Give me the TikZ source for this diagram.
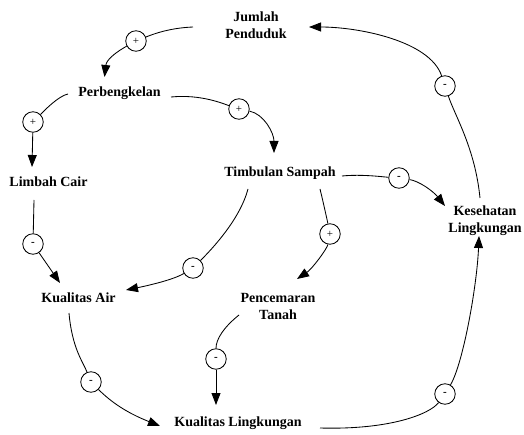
\documentclass[tikz,border=0pt]{standalone}
\usepackage{fontspec}
\setmainfont{Liberation Serif}
\usetikzlibrary{arrows.meta}
\begin{document}
\begin{tikzpicture}[x=1pt,y=-1pt,
  var/.style={font=\fontsize{14}{17}\selectfont\bfseries, inner sep=0pt, align=center},
  sgn/.style={circle, draw, line width=0.85pt, minimum size=20.5pt, inner sep=0pt,
              font=\fontsize{11}{11}\selectfont},
  link/.style={line width=0.85pt, -{Triangle[length=12pt,width=9pt]}},
  seg/.style={line width=0.85pt}]
\useasboundingbox (0,0) rectangle (524,435);

% variables
\node[var] (jp) at (256,25) {Jumlah\\Penduduk};
\node[var, anchor=base] (pb) at (119.5,97) {Perbengkelan};
\node[var, anchor=base] (lc) at (48.5,187) {Limbah Cair};
\node[var, anchor=base] (ts) at (280,177) {Timbulan Sampah};
\node[var] (kl) at (485,221) {Kesehatan\\Lingkungan};
\node[var, anchor=base] (ka) at (78.5,302) {Kualitas Air};
\node[var] (pt) at (278,306) {Pencemaran\\Tanah};
\node[var, anchor=base] (kling) at (238,426) {Kualitas Lingkungan};

% polarity markers
\newcommand{\posmark}{\raisebox{-1pt}{+}}
\newcommand{\negmark}{\raisebox{-1.5pt}{\bfseries -}}
\node[sgn] (c1) at (136,41) {\posmark};
\node[sgn] (c2) at (33,122) {\posmark};
\node[sgn] (c3) at (239,109) {\posmark};
\node[sgn] (c4) at (33,244) {\negmark};
\node[sgn] (c5) at (193,268) {\negmark};
\node[sgn] (c6) at (399,178) {\negmark};
\node[sgn] (c7) at (330,234) {\posmark};
\node[sgn] (c8) at (445,86) {\negmark};
\node[sgn] (c9) at (216,359) {\negmark};
\node[sgn] (c10) at (91,382) {\negmark};
\node[sgn] (c11) at (445,394) {\negmark};

% Jumlah Penduduk -> Perbengkelan
\draw[seg] ([shift={(-63,2)}]jp.center) .. controls +(-25,1) and +(15,-6) .. (c1);
\draw[link] (c1) .. controls +(-18,10) and +(2,-18) .. ([shift={(-15,-20)}]pb.base);
% Perbengkelan -> Limbah Cair
\draw[seg] ([shift={(-51.5,-3)}]pb.base) .. controls +(-10,2) and +(10,-10) .. (c2);
\draw[link] (c2) -- ([shift={(-16.5,-20)}]lc.base);
% Perbengkelan -> Timbulan Sampah
\draw[seg] ([shift={(51.5,0)}]pb.base) .. controls +(30,-3) and +(-15,-5) .. (c3);
\draw[link] (c3) .. controls +(25,5) and +(0,-20) .. ([shift={(-6,-24)}]ts.base);
% Limbah Cair -> Kualitas Air
\draw[seg] ([shift={(-14.5,13)}]lc.base) -- (c4);
\draw[link] (c4) -- ([shift={(-18.5,-19)}]ka.base);
% Timbulan Sampah -> Kualitas Air
\draw[seg] ([shift={(-32,12)}]ts.base) .. controls +(-8,30) and +(20,-20) .. (c5);
\draw[link] (c5) .. controls +(-20,12) and +(20,-4) .. ([shift={(47.5,-12)}]ka.base);
% Timbulan Sampah -> Kesehatan Lingkungan
\draw[seg] ([shift={(62,-1)}]ts.base) .. controls +(20,-2) and +(-15,-1) .. (c6);
\draw[link] (c6) .. controls +(20,3) and +(-12,-15) .. ([shift={(-40,-15)}]kl.center);
% Timbulan Sampah -> Pencemaran Tanah
\draw[seg] ([shift={(40,12)}]ts.base) .. controls +(3,12) and +(-2,-10) .. (c7);
\draw[link] (c7) .. controls +(-3,15) and +(15,-10) .. ([shift={(19,-27)}]pt.center);
% Kesehatan Lingkungan -> Jumlah Penduduk
\draw[seg] ([shift={(-5,-23)}]kl.center) .. controls +(-5,-50) and +(10,30) .. (c8);
\draw[link] (c8) .. controls +(-15,-45) and +(50,0) .. ([shift={(53,2)}]jp.center);
% Kualitas Air -> Kualitas Lingkungan
\draw[seg] ([shift={(-9.5,11)}]ka.base) .. controls +(3,35) and +(-8,-20) .. (c10);
\draw[link] (c10) .. controls +(25,25) and +(-25,-10) .. ([shift={(-78,0)}]kling.base);
% Pencemaran Tanah -> Kualitas Lingkungan
\draw[seg] ([shift={(-39,9)}]pt.center) .. controls +(-15,12) and +(0,-20) .. (c9);
\draw[link] (c9) -- ([shift={(-22,-21)}]kling.base);
% Kualitas Lingkungan -> Kesehatan Lingkungan
\draw[seg] ([shift={(82,2)}]kling.base) .. controls +(70,2) and +(-15,20) .. (c11);
\draw[link] (c11) .. controls +(18,-30) and +(-2,50) .. ([shift={(-6,15)}]kl.center);
\end{tikzpicture}
\end{document}
